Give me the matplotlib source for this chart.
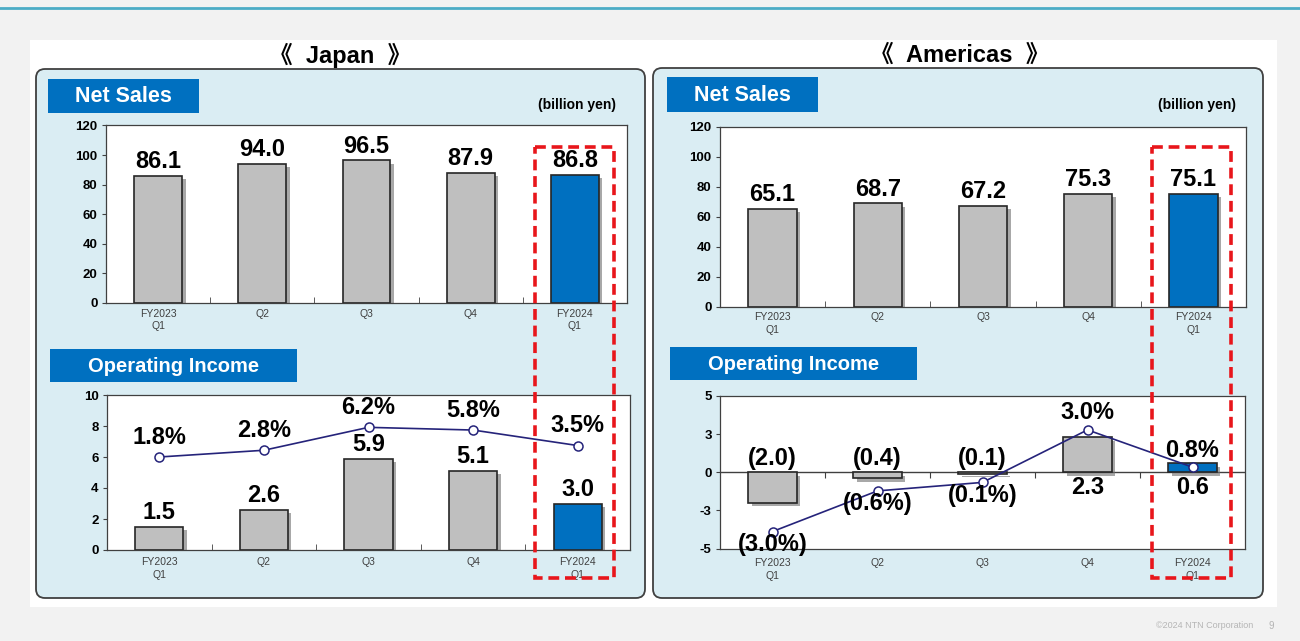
import matplotlib
matplotlib.use("Agg")
import matplotlib.pyplot as plt
import matplotlib.patheffects as pe
from matplotlib.patches import Rectangle, FancyBboxPatch

plt.rcParams['font.family'] = ['Liberation Sans', 'Noto Sans CJK JP', 'DejaVu Sans']

quarters = ["FY2023\nQ1", "Q2", "Q3", "Q4", "FY2024\nQ1"]
japan_sales = [86.1, 94.0, 96.5, 87.9, 86.8]
japan_income = [1.5, 2.6, 5.9, 5.1, 3.0]
japan_margin = [1.8, 2.8, 6.2, 5.8, 3.5]
americas_sales = [65.1, 68.7, 67.2, 75.3, 75.1]
americas_income = [-2.0, -0.4, -0.1, 2.3, 0.6]
americas_margin = [-3.0, -0.6, -0.1, 3.0, 0.8]

GRAY = "#bfbfbf"
BLUE = "#0070c0"
EDGE = "#262626"
NAVY = "#25237a"
PANEL = "#daedf3"
VALUE_FONT = dict(family=["Liberation Sans Narrow", "Liberation Sans"], fontsize=17, weight="bold")

W, H = 1300, 641
fig = plt.figure(figsize=(W / 100, H / 100), dpi=100)
fig.patch.set_facecolor("#f2f2f2")

# background layer in pixel coordinates
bg = fig.add_axes([0, 0, 1, 1], zorder=0)
bg.set_xlim(0, W)
bg.set_ylim(H, 0)
bg.axis("off")
bg.plot([0, W], [8, 8], color="#4bacc6", lw=2)
bg.add_patch(Rectangle((30, 40), 1247, 567, facecolor="white", edgecolor="none"))
for x0, x1, y0 in [(36, 645, 69), (653, 1263, 68)]:
    bg.add_patch(FancyBboxPatch((x0, y0), x1 - x0, 598 - y0,
                                boxstyle="round,pad=0,rounding_size=9",
                                facecolor=PANEL, edgecolor="#404040", lw=1.3))

bg.text(340, 55, "《  Japan  》", ha="center", va="center", fontsize=17, weight="bold")
bg.text(960, 55, "《  Americas  》", ha="center", va="center", fontsize=17, weight="bold")

for x0, y0, w, h, label, fs in [(48, 79, 151, 34, "Net Sales", 15.5),
                                (667, 77, 151, 35, "Net Sales", 15.5),
                                (50, 349, 247, 33, "Operating Income", 14.5),
                                (670, 347, 247, 33, "Operating Income", 14.5)]:
    bg.add_patch(Rectangle((x0, y0), w, h, facecolor=BLUE, edgecolor="none"))
    bg.text(x0 + w / 2, y0 + h / 2 + 1, label, ha="center", va="center",
            color="white", fontsize=fs, weight="bold")

bg.text(577, 105, "(billion yen)", ha="center", va="center", fontsize=10, weight="bold")
bg.text(1197, 105, "(billion yen)", ha="center", va="center", fontsize=10, weight="bold")
bg.text(1253, 626, "©2024 NTN Corporation", ha="right", va="center", fontsize=6.5, color="#b5b5b5")
bg.text(1271, 626, "9", ha="center", va="center", fontsize=7, color="#b5b5b5")


def px_axes(l, t, r, b):
    return fig.add_axes([l / W, 1 - b / H, (r - l) / W, (b - t) / H], zorder=2)


shadow = [pe.SimplePatchShadow(offset=(2.5, -2.5), shadow_rgbFace="#6f6f6f", alpha=0.6), pe.Normal()]


def fmt(v, pct=False):
    s = f"{abs(v):.1f}" + ("%" if pct else "")
    return f"({s})" if v < 0 else s


def style(ax, boundary_ticks=True, pad=4):
    ax.set_facecolor("white")
    ax.set_xlim(-0.5, 4.5)
    ax.set_xticks(range(5))
    ax.set_xticklabels(quarters, fontsize=7.5, color="#404040", linespacing=1.35)
    ax.tick_params(axis="x", which="major", length=0, pad=pad)
    if boundary_ticks:
        ax.set_xticks([0.5, 1.5, 2.5, 3.5], minor=True)
        ax.tick_params(axis="x", which="minor", direction="in", length=4, color="#404040")
    ax.tick_params(axis="y", length=3, color="#404040", pad=3)
    for t in ax.get_yticklabels():
        t.set_fontweight("bold")
        t.set_fontsize(9.5)
    for s in ax.spines.values():
        s.set_color("#404040")
        s.set_linewidth(0.9)


def draw_bars(ax, values):
    colors = [GRAY] * (len(values) - 1) + [BLUE]
    bars = ax.bar(range(len(values)), values, width=0.46, color=colors,
                  edgecolor=EDGE, lw=1.2, zorder=2)
    for b in bars:
        b.set_path_effects(shadow)
    return bars


def draw_sales(ax, values):
    draw_bars(ax, values)
    ax.set_ylim(0, 120)
    ax.set_yticks(range(0, 121, 20))
    for i, v in enumerate(values):
        ax.annotate(fmt(v), (i, v), xytext=(0, 14), textcoords="offset pixels",
                    ha="center", va="center", **VALUE_FONT)
    style(ax)


def draw_margin(ax, margin, lo, hi, label_pos):
    tw = ax.twinx()
    tw.set_ylim(lo, hi)
    tw.axis("off")
    tw.plot(range(len(margin)), margin, color=NAVY, lw=1.2, marker="o", ms=6.5,
            mfc="white", mec=NAVY, mew=1.1, zorder=3)
    for i, m in enumerate(margin):
        tw.annotate(fmt(m, pct=True), (i, m), xytext=(0, label_pos(m)), textcoords="offset pixels",
                    ha="center", va="center", **VALUE_FONT)


# Japan
ax = px_axes(106, 125.5, 627, 303)
draw_sales(ax, japan_sales)

ax = px_axes(107, 395, 630, 550)
draw_bars(ax, japan_income)
ax.set_ylim(0, 10)
ax.set_yticks(range(0, 11, 2))
for i, v in enumerate(japan_income):
    ax.annotate(fmt(v), (i, v), xytext=(0, 14), textcoords="offset pixels",
                ha="center", va="center", **VALUE_FONT)
style(ax, pad=5)
draw_margin(ax, japan_margin, -12, 11, lambda m: 20)

# Americas
ax = px_axes(720, 126.5, 1246, 306.5)
draw_sales(ax, americas_sales)

ax = px_axes(720, 396, 1245, 548.5)
draw_bars(ax, americas_income)
ax.set_ylim(-5, 5)
ax.set_yticks([-5, -2.5, 0, 2.5, 5])
ax.set_yticklabels(["-5", "-3", "0", "3", "5"])
ax.axhline(0, color="#404040", lw=1, zorder=1)
for i, v in enumerate(americas_income):
    ax.annotate(fmt(v), (i, 0), xytext=(0, 14 if v < 0 else -15), textcoords="offset pixels",
                ha="center", va="center", **VALUE_FONT)
style(ax, boundary_ticks=False, pad=7)
zero_axis = ax.secondary_xaxis(0.5)
zero_axis.set_xticks([0.5, 1.5, 2.5, 3.5])
zero_axis.tick_params(direction="in", length=4, color="#404040", labeltop=False, labelbottom=False)
zero_axis.spines["top"].set_visible(False)
zero_axis.spines["bottom"].set_visible(False)
draw_margin(ax, americas_margin, -4, 5, lambda m: 17 if m > 0 else -13)

# red dashed highlight boxes
top = fig.add_axes([0, 0, 1, 1], zorder=10)
top.set_xlim(0, W)
top.set_ylim(H, 0)
top.axis("off")
top.patch.set_visible(False)
for x0, x1 in [(535, 614), (1152, 1231)]:
    top.add_patch(Rectangle((x0, 147), x1 - x0, 578 - 147, fill=False,
                            edgecolor="#e8161b", lw=2.6, linestyle=(0, (3, 1.6))))

fig.savefig("out.png", dpi=100, facecolor=fig.get_facecolor())
